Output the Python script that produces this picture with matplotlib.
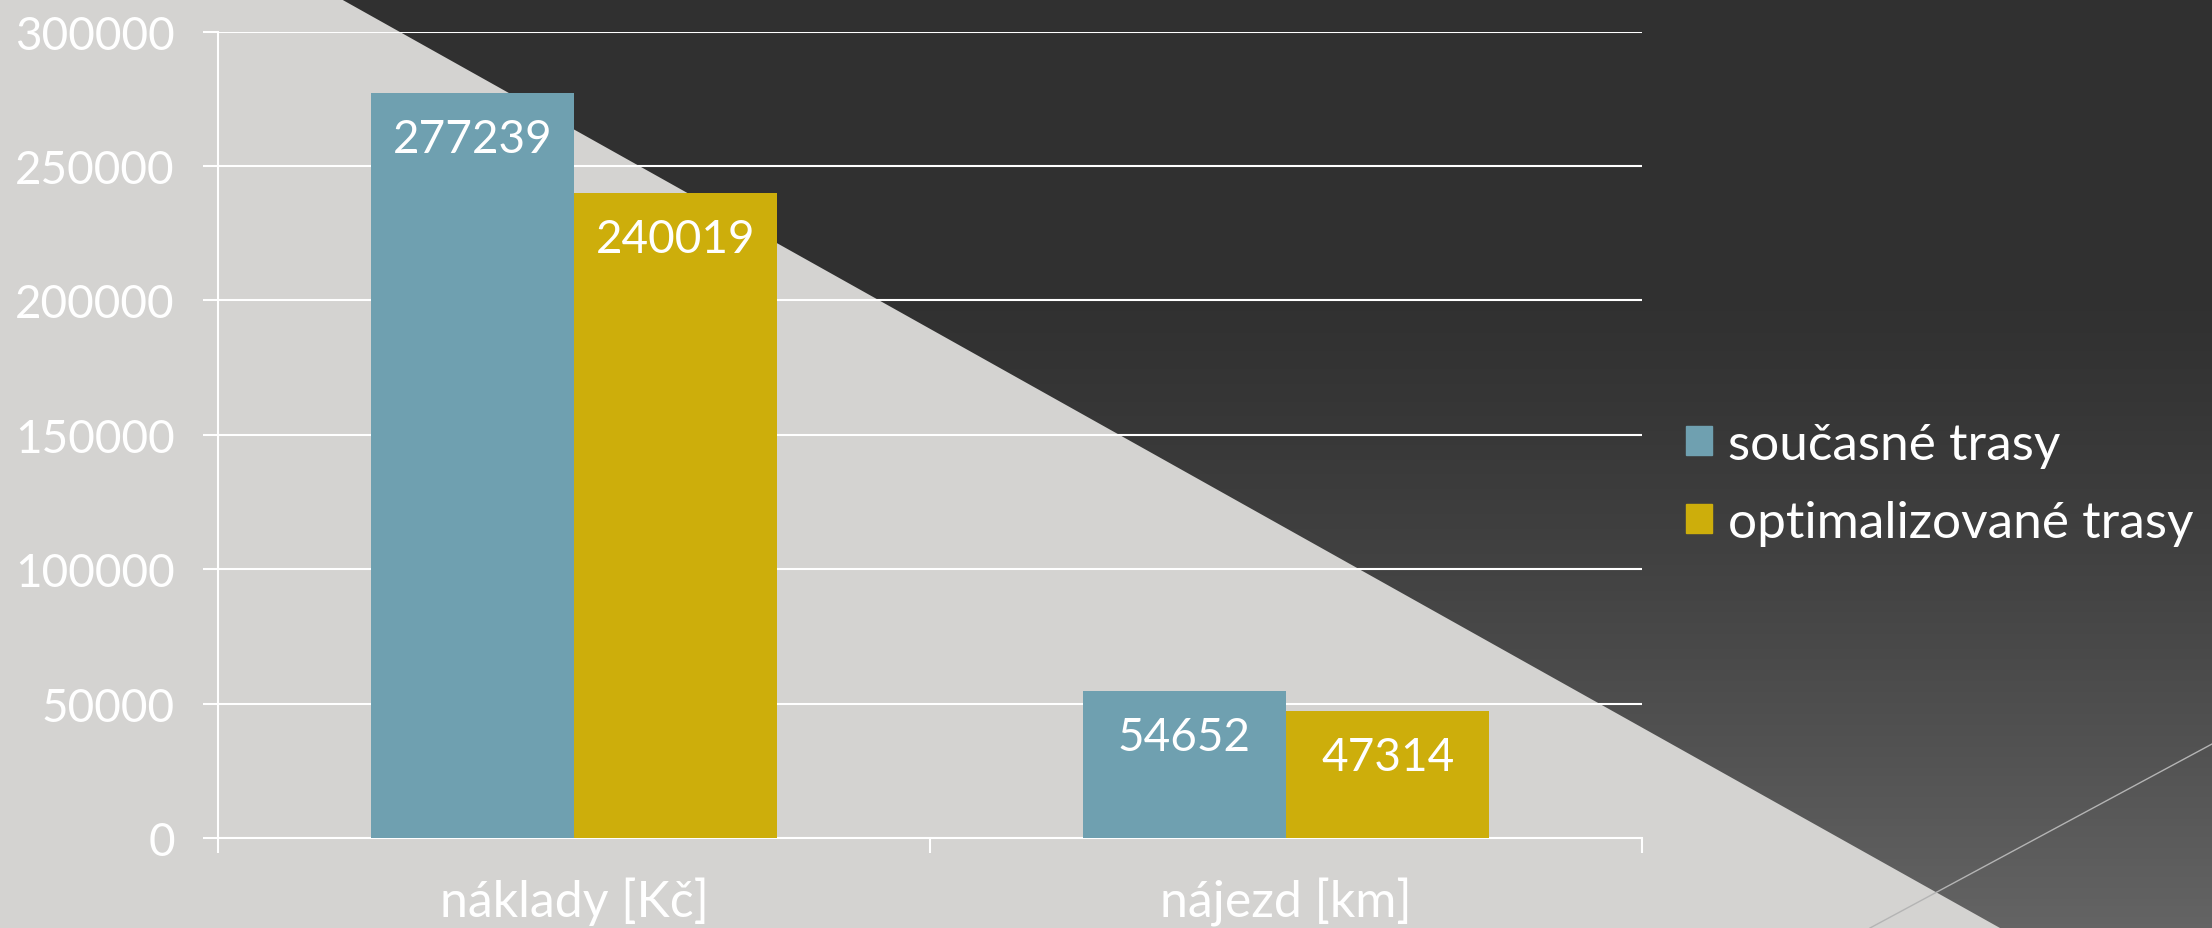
import numpy as np
import matplotlib
matplotlib.use("Agg")
import matplotlib.pyplot as plt
from matplotlib.patches import Polygon, Patch
from matplotlib.lines import Line2D

categories = ["náklady [Kč]", "nájezd [km]"]
series_names = ["současné trasy", "optimalizované trasy"]
current = [277239, 54652]
optimized = [240019, 47314]
yticks = [0, 50000, 100000, 150000, 200000, 250000, 300000]

BLUE, GOLD = "#6fa0b0", "#cdae0b"
LIGHT, WHITE = "#d4d3d1", "#ffffff"
FONT = "Lato"

W, H = 2212, 929
fig = plt.figure(figsize=(W / 100, H / 100), dpi=100)

# background: dark gradient with a light lower-left triangle and a thin line
bg = fig.add_axes([0, 0, 1, 1], zorder=0)
bg.set_xlim(0, W); bg.set_ylim(H, 0); bg.axis("off")
yy = np.linspace(0, 1, 256)
shade = np.clip((yy - 0.3) / 0.7, 0, 1) ** 1.3
col = 0x30 + shade * (0x64 - 0x30)
grad = np.repeat(col[:, None], 2, axis=1) / 255.0
bg.imshow(np.dstack([grad, grad, grad]), extent=[0, W, H, 0], aspect="auto")
bg.add_patch(Polygon([[0, 0], [341, 0], [2000, H], [0, H]], closed=True,
                     color=LIGHT, lw=0))
bg.add_line(Line2D([1870, W], [H, 745], color="#b4b4b4", lw=1))

ax = fig.add_axes([218 / W, 1 - 839 / H, (1642 - 218) / W, (839 - 32.5) / H],
                  zorder=1)
ax.set_facecolor("none")
x = np.arange(len(categories))
bw = 0.2855
b1 = ax.bar(x - bw / 2, current, bw, color=BLUE, zorder=3)
b2 = ax.bar(x + bw / 2, optimized, bw, color=GOLD, zorder=3)
for bars, vals in [(b1, current), (b2, optimized)]:
    for r, v in zip(bars, vals):
        ax.annotate(str(v), (r.get_x() + r.get_width() / 2, v),
                    xytext=(0, -33), textcoords="offset points",
                    ha="center", va="center", color=WHITE, fontsize=33,
                    family=FONT, zorder=4)

ax.set_xlim(-0.5, 1.5)
ax.set_ylim(0, 300000)
ax.set_yticks(yticks)
ax.set_yticklabels([str(t) for t in yticks])
ax.set_xticks(x)
ax.set_xticklabels(categories)
ax.set_xticks([-0.5, 0.5, 1.5], minor=True)
ax.tick_params(axis="x", which="major", length=0, pad=28, labelsize=36,
               labelcolor=WHITE)
ax.tick_params(axis="x", which="minor", length=11, width=1.5, color=WHITE)
ax.tick_params(axis="y", length=11, width=1.5, color=WHITE, pad=20,
               labelsize=33, labelcolor=WHITE)
for lab in ax.get_xticklabels() + ax.get_yticklabels():
    lab.set_family(FONT)
ax.grid(axis="y", color=WHITE, lw=1.5, zorder=0)
ax.set_axisbelow(True)
for sp in ["top", "right"]:
    ax.spines[sp].set_visible(False)
for sp in ["left", "bottom"]:
    ax.spines[sp].set_color(WHITE); ax.spines[sp].set_linewidth(1.5)

handles = [Patch(color=BLUE), Patch(color=GOLD)]
fig.legend(handles, series_names, loc="center left",
           bbox_to_anchor=(1686 / W, 1 - 485 / H), frameon=False,
           handlelength=0.5, handleheight=0.5, handletextpad=0.32,
           labelspacing=0.62, labelcolor=WHITE, borderaxespad=0,
           borderpad=0, prop={"family": FONT, "size": 37})

fig.savefig("out.png", dpi=100)
